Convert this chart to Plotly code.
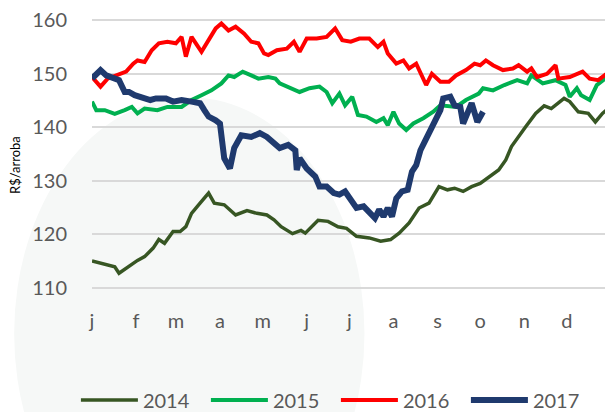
import plotly.graph_objects as go

# days of year and R$/arroba prices
d14 = [1, 7, 13, 17, 20, 26, 33, 38, 44, 48, 52, 58, 63, 67, 71, 77, 83, 87, 94, 102,
       110, 117, 124, 129, 134, 142, 148, 151, 160, 167, 174, 180, 187, 196, 204, 211, 217, 224, 231, 238,
       245, 251, 256, 262, 268, 274, 277, 287, 292, 296, 306, 313, 319, 324, 333, 337, 343, 350, 355, 360, 365]
v14 = [115.0, 114.6, 114.1, 113.9, 112.7, 113.9, 115.1, 115.8, 117.4, 119.0, 118.3, 120.5, 120.5, 121.4, 123.9, 125.8, 127.7, 125.8, 125.5, 123.6,
       124.4, 123.9, 123.6, 122.7, 121.4, 120.1, 120.7, 120.2, 122.6, 122.4, 121.4, 121.1, 119.6, 119.3, 118.7, 119.0, 120.2, 122.1, 124.9, 125.8,
       128.9, 128.3, 128.6, 128.0, 128.9, 129.5, 130.1, 132.0, 133.9, 136.4, 140.1, 142.6, 144.0, 143.5, 145.4, 144.8, 142.9, 142.6, 141.0, 142.6, 143.7]

d15 = [1, 4, 10, 17, 24, 29, 33, 38, 47, 54, 64, 71, 78, 85, 92, 97, 101, 107, 113, 118,
       125, 130, 133, 140, 147, 154, 161, 166, 170, 175, 179, 184, 188, 194, 201, 206, 209, 213, 217, 222,
       227, 234, 241, 246, 257, 264, 273, 276, 283, 291, 300, 307, 310, 318, 327, 334, 337, 342, 345, 351, 356, 362, 365]
v15 = [144.8, 143.2, 143.2, 142.5, 143.2, 143.8, 142.6, 143.5, 143.2, 143.8, 143.8, 145.1, 146.0, 146.9, 148.2, 149.7, 149.4, 150.4, 149.7, 149.1,
       149.4, 149.1, 148.2, 147.3, 146.6, 147.3, 147.6, 146.6, 144.5, 146.3, 144.1, 145.7, 142.3, 142.0, 141.0, 141.7, 140.4, 142.9, 140.7, 139.5,
       140.7, 141.7, 142.9, 144.1, 143.8, 145.1, 146.3, 147.3, 146.9, 147.9, 148.8, 148.2, 149.7, 148.2, 148.8, 147.9, 145.7, 147.3, 146.0, 145.1, 147.9, 149.1, 150.0]

d16 = [1, 7, 12, 19, 25, 30, 33, 38, 43, 48, 54, 60, 64, 67, 71, 78, 83, 88, 92, 97,
       102, 108, 113, 118, 122, 125, 131, 138, 143, 147, 152, 159, 166, 172, 177, 183, 189, 196, 202, 206,
       209, 215, 220, 224, 229, 233, 236, 240, 246, 252, 257, 264, 270, 274, 278, 283, 290, 297, 301, 307,
       310, 314, 321, 327, 329, 337, 346, 351, 357, 363, 365]
v16 = [149.4, 147.6, 149.1, 149.7, 150.4, 151.9, 152.5, 152.2, 154.4, 155.7, 156.0, 155.7, 156.9, 153.2, 156.9, 154.1, 156.3, 158.5, 159.4, 158.1,
       158.8, 157.5, 156.0, 155.7, 153.8, 153.5, 154.4, 154.7, 156.0, 154.1, 156.6, 156.6, 156.9, 158.5, 156.3, 156.0, 156.6, 156.6, 155.0, 156.0,
       153.8, 151.9, 152.5, 151.0, 151.9, 149.7, 147.9, 150.0, 148.5, 148.5, 149.7, 150.7, 151.9, 151.6, 152.5, 151.6, 150.7, 151.0, 151.6, 150.4,
       151.0, 149.4, 150.0, 151.6, 149.1, 149.4, 150.4, 149.1, 148.8, 150.0, 149.4]

d17 = [1, 7, 11, 15, 20, 24, 27, 31, 37, 42, 46, 53, 58, 64, 71, 77, 80, 83, 88, 91,
       94, 98, 101, 106, 113, 119, 124, 133, 139, 144, 145, 147, 152, 158, 161, 166, 171, 175, 179, 182,
       187, 192, 196, 200, 203, 206, 209, 212, 215, 219, 223, 226, 229, 232, 235, 239, 242, 246, 248, 253,
       256, 260, 262, 266, 268, 272, 276]
v17 = [149.1, 150.7, 149.7, 149.4, 148.8, 146.6, 146.6, 146.0, 145.4, 145.1, 145.4, 145.4, 144.8, 145.1, 144.8, 144.5, 143.2, 142.0, 141.3, 140.7,
       134.2, 132.3, 136.1, 138.5, 138.2, 138.9, 138.2, 136.1, 136.7, 135.7, 132.0, 134.2, 132.3, 130.8, 128.9, 128.9, 127.7, 127.4, 128.0, 126.7,
       124.9, 125.2, 123.9, 123.0, 124.6, 123.3, 124.9, 123.3, 126.7, 128.0, 128.3, 131.7, 132.9, 135.7, 137.3, 139.5, 141.3, 143.2, 145.4, 145.7,
       144.1, 143.8, 140.7, 143.2, 144.5, 141.0, 142.9]

month_days = [1, 32, 60, 91, 121, 152, 182, 213, 244, 274, 305, 335]
month_labels = ["j", "f", "m", "a", "m", "j", "j", "a", "s", "o", "n", "d"]
price_ticks = [110, 120, 130, 140, 150, 160]

series = [
    ("2014", d14, v14, "#375623", 3.5),
    ("2015", d15, v15, "#00B050", 4),
    ("2016", d16, v16, "#FF0000", 4),
    ("2017", d17, v17, "#1F3A6E", 6),
]

fig = go.Figure()
for name, d, v, color, w in series:
    fig.add_trace(go.Scatter(x=d, y=v, name=name, mode="lines",
                             line=dict(color=color, width=w)))

# faint round watermark behind the chart
fig.add_shape(type="circle", xref="paper", yref="paper", layer="below",
              x0=-0.15, x1=0.525, y0=-1.04, y1=0.71,
              fillcolor="#F6F8F7", line=dict(width=0))

tick_font = dict(family="Lato", size=20, color="#595959")

# page body adds an 8px margin, so the figure is a bit smaller than the window
fig.update_layout(
    width=605, height=404,
    margin=dict(l=84, r=2, t=10.5, b=122.5, autoexpand=False),
    paper_bgcolor="white",
    plot_bgcolor="rgba(0,0,0,0)",
    showlegend=True,
    legend=dict(orientation="h", x=-0.031, xanchor="left", y=-0.411, yanchor="middle",
                font=tick_font, itemwidth=57, entrywidth=58, entrywidthmode="pixels",
                bgcolor="rgba(0,0,0,0)"),
    annotations=[dict(text="R$/arroba", xref="paper", yref="paper", x=-0.148, y=0.46,
                      xanchor="center", yanchor="middle", textangle=-90, showarrow=False,
                      font=dict(family="Lato", size=13, color="black"))],
)
fig.update_xaxes(range=[1, 366], tickvals=month_days, ticktext=month_labels,
                 showgrid=False, zeroline=False, showline=False,
                 tickfont=tick_font, ticklabelstandoff=18)
# small padding so the 110 and 160 gridlines are not dropped at the edges
fig.update_yaxes(range=[109.75, 160.25], tickvals=price_ticks, showgrid=True,
                 gridcolor="#D9D9D9", gridwidth=1.5, zeroline=False, showline=False,
                 tickfont=tick_font, ticklabelstandoff=24, ticklabeloverflow="allow")

fig.write_html("out.html")
